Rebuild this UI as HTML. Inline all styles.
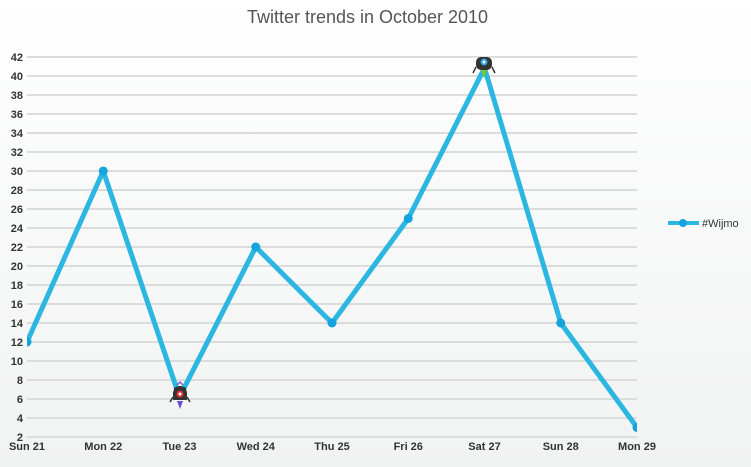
<!DOCTYPE html>
<html><head><meta charset="utf-8"><style>
html,body{margin:0;padding:0;width:751px;height:467px;overflow:hidden;}
svg{display:block;}
text{font-family:"Liberation Sans",Arial,sans-serif;}
</style></head><body>
<svg width="751" height="467" viewBox="0 0 751 467" xmlns="http://www.w3.org/2000/svg">
<defs>
<linearGradient id="bg" x1="0" y1="0" x2="0" y2="1">
<stop offset="0" stop-color="#ffffff"/>
<stop offset="1" stop-color="#f1f2f2"/>
</linearGradient>
<clipPath id="pc"><rect x="27" y="0" width="610" height="467"/></clipPath>
</defs>
<rect width="751" height="467" fill="url(#bg)"/>
<text x="367.5" y="23" font-size="18" fill="#555" text-anchor="middle" textLength="241" lengthAdjust="spacingAndGlyphs">Twitter trends in October 2010</text>
<g stroke="#dcdcdc" stroke-width="2">
<line x1="27" x2="637" y1="57" y2="57"/><line x1="27" x2="637" y1="76" y2="76"/><line x1="27" x2="637" y1="95" y2="95"/><line x1="27" x2="637" y1="114" y2="114"/><line x1="27" x2="637" y1="133" y2="133"/><line x1="27" x2="637" y1="152" y2="152"/><line x1="27" x2="637" y1="171" y2="171"/><line x1="27" x2="637" y1="190" y2="190"/><line x1="27" x2="637" y1="209" y2="209"/><line x1="27" x2="637" y1="228" y2="228"/><line x1="27" x2="637" y1="247" y2="247"/><line x1="27" x2="637" y1="266" y2="266"/><line x1="27" x2="637" y1="285" y2="285"/><line x1="27" x2="637" y1="304" y2="304"/><line x1="27" x2="637" y1="323" y2="323"/><line x1="27" x2="637" y1="342" y2="342"/><line x1="27" x2="637" y1="361" y2="361"/><line x1="27" x2="637" y1="380" y2="380"/><line x1="27" x2="637" y1="399" y2="399"/><line x1="27" x2="637" y1="418" y2="418"/><line x1="27" x2="637" y1="437" y2="437"/>
</g>
<g font-size="11" font-weight="bold" fill="#333" text-anchor="end">
<text x="23" y="61">42</text><text x="23" y="80">40</text><text x="23" y="99">38</text><text x="23" y="118">36</text><text x="23" y="137">34</text><text x="23" y="156">32</text><text x="23" y="175">30</text><text x="23" y="194">28</text><text x="23" y="213">26</text><text x="23" y="232">24</text><text x="23" y="251">22</text><text x="23" y="270">20</text><text x="23" y="289">18</text><text x="23" y="308">16</text><text x="23" y="327">14</text><text x="23" y="346">12</text><text x="23" y="365">10</text><text x="23" y="384">8</text><text x="23" y="403">6</text><text x="23" y="422">4</text><text x="23" y="441">2</text>
</g>
<g font-size="11" font-weight="bold" fill="#333" text-anchor="middle">
<text x="27" y="450">Sun 21</text><text x="103.25" y="450">Mon 22</text><text x="179.5" y="450">Tue 23</text><text x="255.75" y="450">Wed 24</text><text x="332" y="450">Thu 25</text><text x="408.25" y="450">Fri 26</text><text x="484.5" y="450">Sat 27</text><text x="560.75" y="450">Sun 28</text><text x="637" y="450">Mon 29</text>
</g>
<g clip-path="url(#pc)">
<polyline fill="none" stroke="#2cb6e2" stroke-width="5" stroke-linejoin="round" points="27,342 103.25,171 179.5,397 255.75,247 332,323 408.25,218.5 484.5,68 560.75,323 637,427.5"/>
<g fill="#14a3dc">
<circle cx="27" cy="342" r="4.5"/><circle cx="103.25" cy="171" r="4.5"/><circle cx="255.75" cy="247" r="4.5"/><circle cx="332" cy="323" r="4.5"/><circle cx="408.25" cy="218.5" r="4.5"/><circle cx="560.75" cy="323" r="4.5"/><circle cx="637" cy="427.5" r="4.5"/>
</g>
</g>
<!-- Tue marker -->
<g transform="translate(180,395)">
<path d="M-3,-10 L0,-13 L3,-10" fill="none" stroke="#7a5fd0" stroke-width="1.5"/>
<path d="M-3,6 L0,14 L3,6 Z" fill="#6a4fd0"/>
<path d="M-6,-7 Q0,-11 6,-7 L7,5 L-7,5 Z" fill="#333"/>
<rect x="-7" y="-6" width="14" height="11" rx="4" fill="#333"/>
<line x1="-7" y1="2" x2="-10" y2="7" stroke="#333" stroke-width="1.5"/>
<line x1="7" y1="2" x2="10" y2="7" stroke="#333" stroke-width="1.5"/>
<circle cx="0" cy="-1" r="3.5" fill="#e23030"/>
<circle cx="0" cy="-1" r="1.5" fill="#fff"/>
</g>
<!-- Sat marker -->
<g transform="translate(484,64)">
<path d="M-3,6 L0,14 L3,6 Z" fill="#7cc828"/>
<rect x="-8" y="-7" width="16" height="13" rx="5" fill="#333"/>
<line x1="-8" y1="3" x2="-11" y2="9" stroke="#333" stroke-width="1.5"/>
<line x1="8" y1="3" x2="11" y2="9" stroke="#333" stroke-width="1.5"/>
<circle cx="0" cy="-2" r="3.5" fill="#2aa8e0"/>
<circle cx="0" cy="-2" r="1.5" fill="#fff"/>
</g>
<!-- legend -->
<line x1="668" y1="223" x2="699" y2="223" stroke="#2cb6e2" stroke-width="4"/>
<circle cx="683" cy="223" r="4" fill="#14a3dc"/>
<text x="702" y="227" font-size="11" fill="#333">#Wijmo</text>
</svg>
</body></html>
